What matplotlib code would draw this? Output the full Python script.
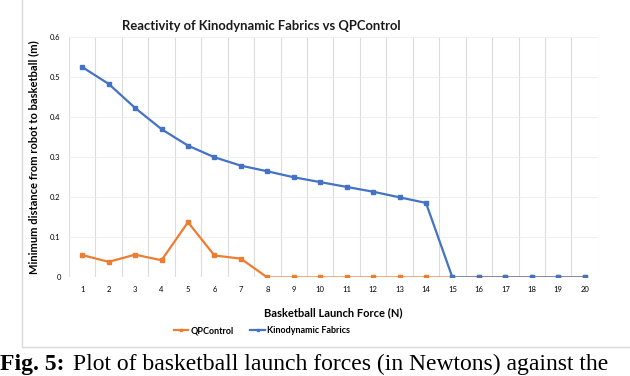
import numpy as np
import matplotlib.pyplot as plt
from matplotlib.patches import Rectangle

# launch forces (N)
force = list(range(1, 21))

# minimum distance robot <-> basketball (m)
qp_control = [0.056, 0.039, 0.057, 0.043, 0.138, 0.055, 0.047, 0, 0, 0,
              0, 0, 0, 0, 0, 0, 0, 0, 0, 0]
kino_fabrics = [0.525, 0.483, 0.423, 0.370, 0.329, 0.300, 0.279, 0.265, 0.250, 0.238,
                0.226, 0.214, 0.200, 0.186, 0, 0, 0, 0, 0, 0]

y_ticks = [0, 0.1, 0.2, 0.3, 0.4, 0.5, 0.6]

orange = '#ED7D31'
blue = '#4472C4'
font = ['Lato', 'DejaVu Sans']

fig = plt.figure(figsize=(6.3, 3.76), dpi=100)
ax = fig.add_axes([0.1095, 0.262, 0.8395, 0.6396])

# light frame of the chart area
fig.patches.append(Rectangle((0.035, 0.077), 1.0, 0.93, transform=fig.transFigure,
                             fill=False, edgecolor='#d9d9d9', linewidth=1))

ax.plot(force, qp_control, color=orange, lw=1.6, marker='s', ms=3.5, label='QPControl', zorder=3)
ax.plot(force, kino_fabrics, color=blue, lw=1.6, marker='s', ms=3.5, label='Kinodynamic Fabrics', zorder=4)

ax.set_xlim(0.5, 20.5)
ax.set_ylim(0, 0.6)
ax.set_xticks(force)
ax.set_xticklabels([str(f) for f in force], fontsize=5.5, family=font)
ax.set_yticks(y_ticks)
ax.set_yticklabels(['0'] + [str(v) for v in y_ticks[1:]], fontsize=5.5, family=font)
ax.tick_params(length=0, pad=6)

# category boundary grid
for b in np.arange(0.5, 21, 1):
    ax.axvline(b, color='#dcdcdc', lw=0.8, zorder=0)
ax.yaxis.grid(True, color='#eeeeee', lw=0.6)
ax.set_axisbelow(True)
for s in ax.spines.values():
    s.set_visible(False)

fig.text(0.414, 0.932, 'Reactivity of Kinodynamic Fabrics vs QPControl', fontsize=9.4,
         fontweight='bold', family=font, color='#1a1a1a', ha='center', va='center')
ax.set_xlabel('Basketball Launch Force (N)', fontsize=8, fontweight='bold',
              family=font, labelpad=10)
ax.set_ylabel('Minimum distance from robot to basketball (m)', fontsize=8,
              fontweight='bold', family=font, labelpad=8)

leg = fig.legend(*ax.get_legend_handles_labels(), loc='center', bbox_to_anchor=(0.416, 0.12),
                 ncol=2, frameon=False, prop={'family': font, 'size': 6.5, 'weight': 'bold'},
                 handlelength=1.6, handletextpad=0.3, columnspacing=1.8, markerscale=0.6)

# caption at the bottom of the page
cap1 = fig.text(0.0, 0.003, 'Fig. 5:', fontsize=17, family='Liberation Serif',
                fontweight='bold', va='bottom', ha='left')
fig.canvas.draw()
bb = cap1.get_window_extent()
fig.text(bb.x1 / fig.bbox.width + 0.014, 0.003,
         'Plot of basketball launch forces (in Newtons) against the',
         fontsize=17, family='Liberation Serif', va='bottom', ha='left')

fig.savefig('out.png', dpi=100)
